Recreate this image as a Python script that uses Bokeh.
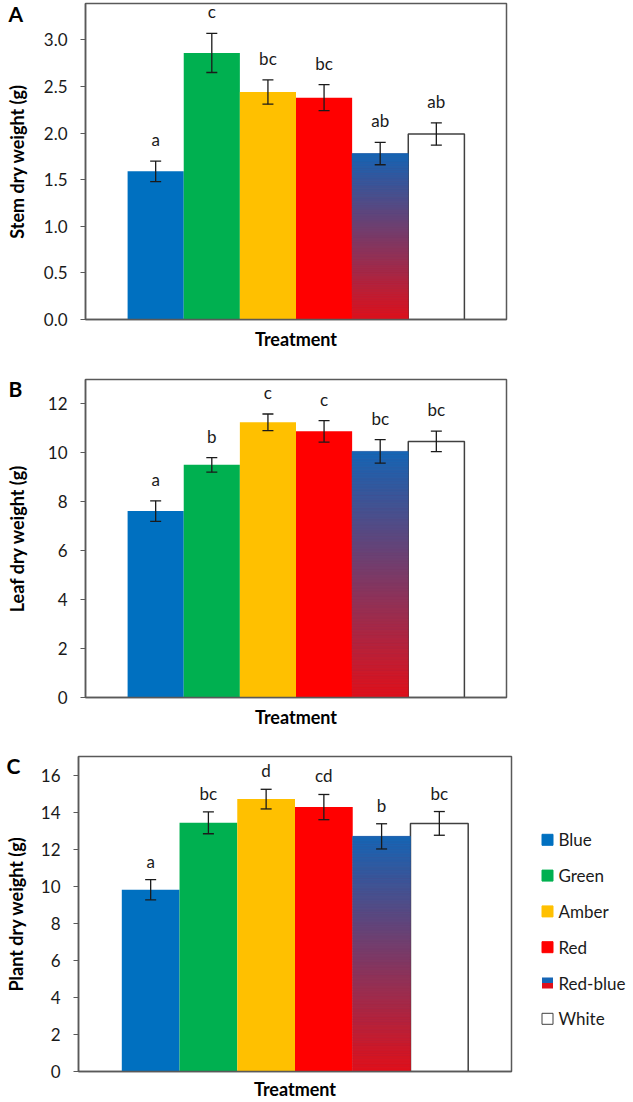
import numpy as np
from bokeh.plotting import figure
from bokeh.models import (ColumnDataSource, Range1d, FixedTicker, PrintfTickFormatter,
                          Whisker, TeeHead, LabelSet, Label)
from bokeh.layouts import column, row
from bokeh.embed import file_html
from bokeh.resources import INLINE
from bokeh.core.properties import value

# ---------------- data ----------------
categories = ["Blue", "Green", "Amber", "Red", "Red-blue", "White"]
bar_colors = ["#0070C0", "#00B050", "#FFC000", "#FF0000", "#7A3A67", "#FFFFFF"]
gradient_top = "#1565B5"
gradient_bottom = "#E0101A"

stem_mean = [1.59, 2.86, 2.44, 2.38, 1.78, 1.99]
stem_se = [0.11, 0.21, 0.13, 0.14, 0.12, 0.12]
stem_letters = ["a", "c", "bc", "bc", "ab", "ab"]

leaf_mean = [7.62, 9.51, 11.25, 10.88, 10.06, 10.47]
leaf_se = [0.42, 0.30, 0.34, 0.44, 0.48, 0.42]
leaf_letters = ["a", "b", "c", "c", "bc", "bc"]

plant_mean = [9.81, 13.42, 14.70, 14.27, 12.69, 13.39]
plant_se = [0.55, 0.59, 0.53, 0.68, 0.68, 0.64]
plant_letters = ["a", "bc", "d", "cd", "b", "bc"]

stem_ticks = [0.0, 0.5, 1.0, 1.5, 2.0, 2.5, 3.0]
leaf_ticks = [0, 2, 4, 6, 8, 10, 12]
plant_ticks = [0, 2, 4, 6, 8, 10, 12, 14, 16]

# ---------------- style ----------------
FONT = "Lato"
TXT = "#1a1a1a"
AXIS_COL = "#595959"
XR = (-0.25, 7.25)


def hex2rgb(h):
    return tuple(int(h[i:i + 2], 16) for i in (1, 3, 5))


def lerp_color(c1, c2, t):
    a, b = hex2rgb(c1), hex2rgb(c2)
    r = [round(a[k] + (b[k] - a[k]) * t) for k in range(3)]
    return "#%02x%02x%02x" % tuple(r)


def make_panel(mean, se, letters, ylabel, yend, yticks, fmt, width, height,
               mb_left, mb_right, mb_top, mb_bottom, ylabel_standoff, xlabel_standoff,
               letter_offset, panel_letter, panel_dx, panel_drop):
    xs = list(range(1, len(categories) + 1))
    upper = [m + s for m, s in zip(mean, se)]
    lower = [m - s for m, s in zip(mean, se)]
    line_alpha = [1.0 if c == "White" else 0.0 for c in categories]
    src = ColumnDataSource(dict(x=xs, top=mean, upper=upper, lower=lower,
                                letter=letters, color=bar_colors, la=line_alpha))

    p = figure(width=width, height=height, x_range=Range1d(*XR), y_range=Range1d(0, yend),
               output_backend="svg", toolbar_location=None,
               min_border_left=mb_left, min_border_right=mb_right,
               min_border_top=mb_top, min_border_bottom=mb_bottom)
    p.background_fill_color = "white"
    p.border_fill_color = "white"

    p.vbar(x="x", top="top", bottom=0, width=1.0, fill_color="color",
           line_color="#404040", line_alpha="la", line_width=1.5, source=src)

    # Red-blue gradient bar (blue at top, red at bottom)
    i = categories.index("Red-blue")
    n = 90
    v = mean[i]
    ks = np.arange(n)
    bottoms = v * ks / n
    tops = v * (ks + 1) / n
    cols = [lerp_color(gradient_bottom, gradient_top, (k + 0.5) / n) for k in ks]
    p.quad(left=xs[i] - 0.5, right=xs[i] + 0.5, bottom=bottoms, top=tops,
           fill_color=cols, line_color=cols, line_width=0.6)

    head_kw = dict(size=11, line_color=TXT, line_width=1.3)
    p.add_layout(Whisker(source=src, base="x", upper="upper", lower="lower",
                         line_color=TXT, line_width=1.3, level="overlay",
                         upper_head=TeeHead(**head_kw), lower_head=TeeHead(**head_kw)))

    p.add_layout(LabelSet(source=src, x="x", y="upper", text="letter",
                          y_offset=letter_offset, text_align="center",
                          text_baseline="alphabetic", text_font=value(FONT),
                          text_font_size="17px", text_color=TXT))

    # panel letter: placed in a side panel so it is not clipped to the frame
    p.add_layout(Label(x=XR[0], y=yend, x_offset=panel_dx, y_offset=-panel_drop,
                       text=panel_letter, text_font=FONT, text_font_style="bold",
                       text_font_size="21px", text_color="black",
                       text_align="left", text_baseline="alphabetic"), "right")

    p.xgrid.visible = False
    p.ygrid.visible = False
    p.outline_line_color = AXIS_COL
    p.outline_line_width = 1.5

    xa = p.xaxis[0]
    xa.ticker = FixedTicker(ticks=[])
    xa.major_tick_line_color = None
    xa.minor_tick_line_color = None
    xa.axis_line_color = AXIS_COL
    xa.axis_line_width = 1.5
    xa.axis_label = "Treatment"
    xa.axis_label_text_font = FONT
    xa.axis_label_text_font_style = "bold"
    xa.axis_label_text_font_size = "18px"
    xa.axis_label_text_color = "black"
    xa.axis_label_standoff = xlabel_standoff

    ya = p.yaxis[0]
    ya.ticker = FixedTicker(ticks=yticks)
    ya.formatter = PrintfTickFormatter(format=fmt)
    ya.major_tick_out = 5
    ya.major_tick_in = 0
    ya.major_tick_line_color = AXIS_COL
    ya.major_tick_line_width = 1.2
    ya.minor_tick_line_color = None
    ya.axis_line_color = AXIS_COL
    ya.axis_line_width = 1.5
    ya.major_label_standoff = 13
    ya.major_label_text_font = FONT
    ya.major_label_text_font_size = "17px"
    ya.major_label_text_color = TXT
    ya.axis_label = ylabel
    ya.axis_label_text_font = FONT
    ya.axis_label_text_font_style = "bold"
    ya.axis_label_text_font_size = "18px"
    ya.axis_label_text_color = "black"
    ya.axis_label_standoff = ylabel_standoff
    return p


C_TOP, C_BOTTOM, C_H = 21, 31, 367
pA = make_panel(stem_mean, stem_se, stem_letters, "Stem dry weight (g)", 3.39, stem_ticks,
                "%.1f", 633, 356, 85, 125, 3, 37, 13, 8, 15, "A", -77, 9.5)
pB = make_panel(leaf_mean, leaf_se, leaf_letters, "Leaf dry weight (g)", 13, leaf_ticks,
                "%d", 633, 379, 84, 127, 23, 38, 17, 8, 15, "B", -77, 8.5)
pC = make_panel(plant_mean, plant_se, plant_letters, "Plant dry weight (g)", 17, plant_ticks,
                "%d", 540, C_H, 78, 29, C_TOP, C_BOTTOM, 11, 6, 12, "C", -72, 8.5)

# ---------------- legend (separate small canvas, data units = pixels) ----------------
LW = 93
leg = figure(width=LW, height=C_H, x_range=Range1d(0, LW), y_range=Range1d(C_H - C_BOTTOM, C_TOP),
             output_backend="svg", toolbar_location=None,
             x_axis_location=None, y_axis_location=None,
             min_border_left=0, min_border_right=0,
             min_border_top=C_TOP, min_border_bottom=C_BOTTOM)
leg.outline_line_color = None
leg.xgrid.visible = False
leg.ygrid.visible = False

y0, step, half = 104.3, 35.8, 5.5
sw_left, sw_right, txt_x = 1.5, 12.5, 18
ly = [y0 + k * step for k in range(len(categories))]
solid = [k for k, c in enumerate(categories) if c != "Red-blue"]
leg.quad(left=sw_left, right=sw_right,
         top=[ly[k] - half for k in solid], bottom=[ly[k] + half for k in solid],
         fill_color=[bar_colors[k] for k in solid],
         line_color=["#404040" if categories[k] == "White" else bar_colors[k] for k in solid],
         line_width=1.0)
rb = categories.index("Red-blue")
leg.quad(left=sw_left, right=sw_right, top=[ly[rb] - half, ly[rb]], bottom=[ly[rb], ly[rb] + half],
         fill_color=[gradient_top, gradient_bottom], line_color=None)
leg.text(x=txt_x, y=ly, text=categories, text_font=value(FONT), text_font_size="17px",
         text_baseline="middle", text_align="left", text_color=TXT)

layout = column(pA, pB, row(pC, leg))
open("out.html", "w").write(file_html(layout, INLINE))
